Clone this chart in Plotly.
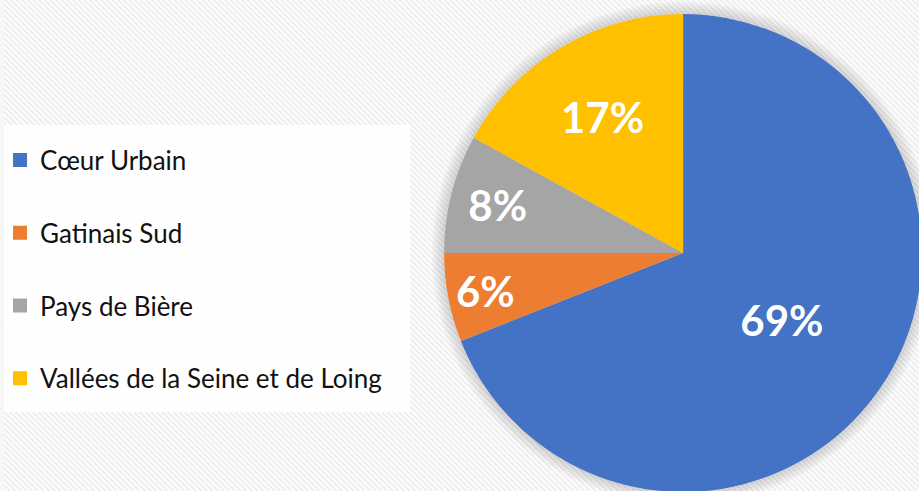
import base64
import plotly.graph_objects as go

categories = ["Cœur Urbain", "Gatinais Sud", "Pays de Bière", "Vallées de la Seine et de Loing"]
values = [69, 6, 8, 17]
colors = ["#4472C4", "#ED7D31", "#A5A5A5", "#FFC000"]

W, H = 940, 520  # canvas slightly larger than the 919x491 window; overflow is clipped

svg = (
    f'<svg xmlns="http://www.w3.org/2000/svg" width="{W}" height="{H}">'
    '<defs><pattern id="p" width="4" height="4" patternUnits="userSpaceOnUse" patternTransform="rotate(-45)">'
    '<rect width="4" height="4" fill="#fdfdfd"/><rect width="2" height="4" fill="#eeeeee"/>'
    '</pattern></defs><rect width="100%" height="100%" fill="url(#p)"/></svg>'
)
bg_uri = "data:image/svg+xml;base64," + base64.b64encode(svg.encode()).decode()

CX, CY, R = 682, 253, 240


def dom(r):
    return dict(x=[(CX - r) / W, (CX + r) / W], y=[1 - (CY + r) / H, 1 - (CY - r) / H])


fig = go.Figure()

# soft shadow halo behind the pie
for d in [12, 9, 6, 3]:
    fig.add_trace(go.Pie(
        labels=categories, values=values, sort=False, direction="clockwise",
        marker=dict(colors=["rgba(0,0,0,0.035)"] * len(values), line=dict(width=0)),
        textinfo="none", hoverinfo="skip", showlegend=False, domain=dom(R + d),
    ))

fig.add_trace(go.Pie(
    labels=categories,
    values=values,
    marker=dict(colors=colors, line=dict(width=0)),
    sort=False,
    direction="clockwise",
    rotation=0,
    textinfo="percent",
    textposition="inside",
    insidetextorientation="horizontal",
    insidetextfont=dict(family="Lato", size=42, color="white", weight="bold"),
    domain=dom(R),
    showlegend=False,
    hoverinfo="label+percent",
))

for name, col in zip(categories, colors):
    fig.add_trace(go.Scatter(
        x=[None], y=[None], mode="markers", name=name, legendgroup=name,
        marker=dict(symbol="square", size=14, color=col),
    ))

fig.update_layout(
    width=W, height=H,
    margin=dict(l=0, r=0, t=0, b=0),
    paper_bgcolor="#f7f7f7",
    plot_bgcolor="rgba(0,0,0,0)",
    xaxis=dict(visible=False),
    yaxis=dict(visible=False),
    uniformtext=dict(minsize=42, mode="show"),
    legend=dict(
        x=-4 / W, xanchor="left", y=1 - 269.5 / H, yanchor="middle",
        font=dict(family="Lato", size=26, color="#111111"),
        bgcolor="rgba(0,0,0,0)", tracegroupgap=36, traceorder="grouped",
    ),
    images=[dict(source=bg_uri, xref="paper", yref="paper", x=0, y=1, sizex=1, sizey=1,
                 sizing="stretch", layer="below", xanchor="left", yanchor="top")],
    shapes=[dict(type="rect", xref="paper", yref="paper", x0=0, x1=408 / W,
                 y0=1 - 412 / H, y1=1 - 125 / H, fillcolor="rgba(255,255,255,0.9)",
                 line=dict(width=0), layer="below")],
)

fig.write_html(
    "out.html",
    config={"displayModeBar": False},
    post_script="document.body.style.margin='0';document.body.style.overflow='hidden';"
                "document.documentElement.style.overflow='hidden';",
)
